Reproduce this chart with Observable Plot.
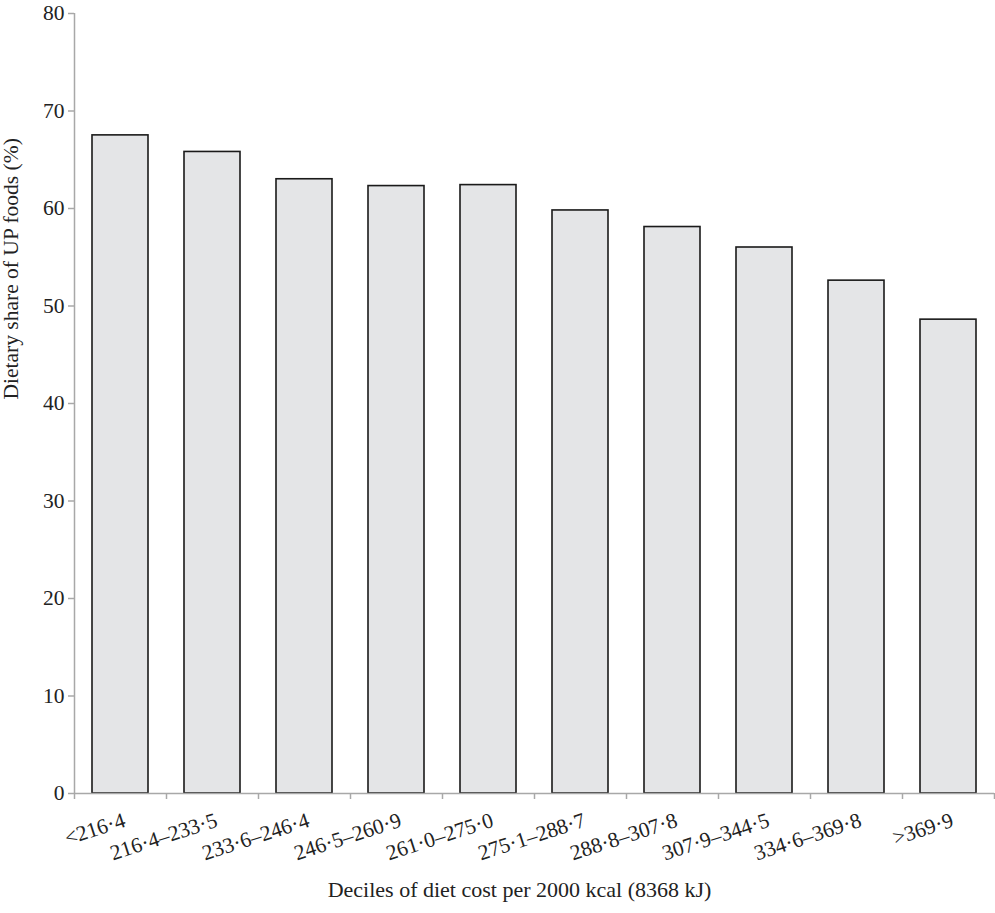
<!DOCTYPE html>
<html>
<head>
<meta charset="utf-8">
<script src="https://cdn.jsdelivr.net/npm/d3@7"></script>
<script src="https://cdn.jsdelivr.net/npm/@observablehq/plot@0.6"></script>
<style>
  body { margin: 0; background: #fff; }
  svg { font-family: "Liberation Serif", "DejaVu Serif", serif; }
</style>
</head>
<body>
<div id="chart"></div>
<script>
const categories = ["<216·4", "216·4–233·5", "233·6–246·4", "246·5–260·9", "261·0–275·0",
                    "275·1–288·7", "288·8–307·8", "307·9–344·5", "334·6–369·8", ">369·9"];
const values = [67.5, 65.8, 63.0, 62.3, 62.4, 59.8, 58.1, 56.0, 52.6, 48.6];
const yTicks = [0, 10, 20, 30, 40, 50, 60, 70, 80];
const xTitle = "Deciles of diet cost per 2000 kcal (8368 kJ)";
const yTitle = "Dietary share of UP foods (%)";

const data = categories.map((c, i) => ({cat: c, i, v: values[i]}));
const boundaries = d3.range(categories.length + 1);
const axisGray = "#a8a8a8";
const fs = 21.5;

const chart = Plot.plot({
  width: 995,
  height: 913,
  marginLeft: 74,
  marginRight: 1,
  marginTop: 13,
  marginBottom: 120,
  style: {fontFamily: "Liberation Serif", fontSize: fs + "px", color: "#222", background: "#fff"},
  x: {type: "linear", domain: [0, categories.length]},
  y: {type: "linear", domain: [0, 80]},
  marks: [
    Plot.rectY(data, {x1: "i", x2: d => d.i + 1, y1: 0, y2: "v", insetLeft: 18, insetRight: 18,
      fill: "#e4e5e7", stroke: "#1a1a1a", strokeWidth: 1.6}),
    Plot.ruleX([0], {stroke: axisGray, strokeWidth: 1.5}),
    Plot.ruleY([0], {stroke: axisGray, strokeWidth: 1.5}),
    Plot.axisX({ticks: boundaries, tickSize: 6, stroke: axisGray, strokeWidth: 1.5, tickFormat: () => "", label: null}),
    Plot.axisY({ticks: yTicks, tickSize: 6, tickPadding: 4, stroke: axisGray, strokeWidth: 1.5,
      fill: "#222", fontSize: fs, label: null}),
    Plot.text(data, {x: d => d.i + 0.5, y: 0, text: "cat", rotate: -18, textAnchor: "end",
      lineAnchor: "middle", dy: 26, dx: 4, fontSize: fs, fill: "#222"}),
    Plot.text([xTitle], {frameAnchor: "bottom", dy: 96, dx: -15, text: d => d, fontSize: fs + 0.5, fill: "#222", lineAnchor: "middle"}),
    Plot.text([yTitle], {frameAnchor: "left", dx: -63, dy: -4, rotate: -90, text: d => d, fontSize: fs, fill: "#222", lineAnchor: "middle"})
  ]
});
document.getElementById("chart").appendChild(chart);
</script>
</body>
</html>
